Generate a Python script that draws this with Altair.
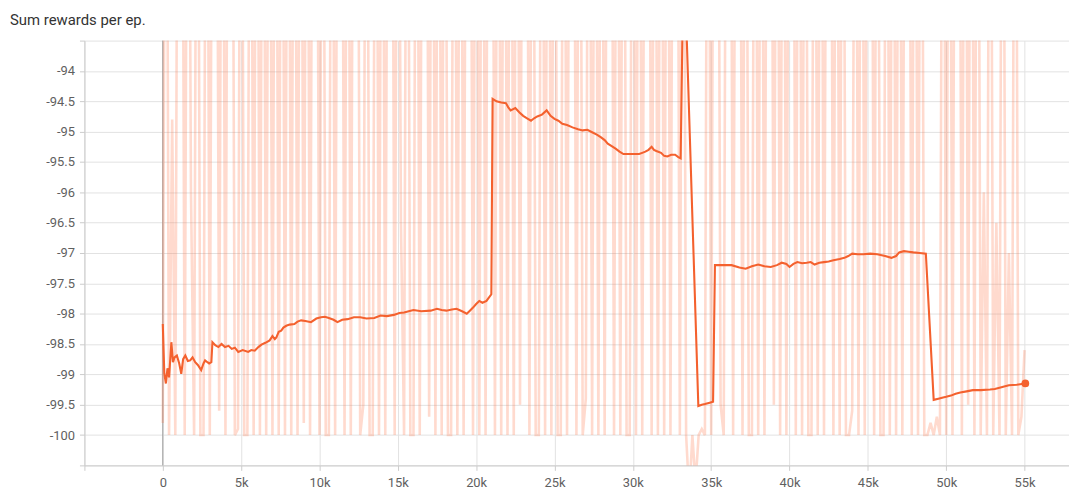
import altair as alt
import pandas as pd

# ---- smoothed series (step, value) ----
smooth_steps = [
    0, 100, 200, 300, 400, 550, 650, 750, 900, 1050,
    1180, 1300, 1440, 1600, 1750, 1900, 2070, 2250, 2450, 2600,
    2700, 2850, 2960, 3100, 3170, 3350, 3550, 3750, 3970, 4200,
    4400, 4600, 4820, 5100, 5450, 5650, 5870, 6100, 6300, 6550,
    6820, 7000, 7150, 7250, 7400, 7560, 7700, 7880, 8100, 8400,
    8600, 8830, 9100, 9460, 9800, 10100, 10350, 10600, 10900, 11150,
    11450, 11800, 12200, 12600, 13000, 13500, 13900, 14300, 14750, 15100,
    15400, 15700, 16000, 16500, 17100, 17500, 17800, 18100, 18450, 18750,
    19100, 19400, 19600, 19800, 20000, 20200, 20400, 20660, 20800, 20970,
    21050, 21300, 21600, 21900, 22050, 22200, 22500, 22750, 23000, 23250,
    23500, 23700, 23900, 24200, 24500, 24750, 25000, 25250, 25500, 25800,
    26150, 26500, 26800, 27100, 27400, 27700, 27950, 28200, 28400, 28650,
    28900, 29150, 29400, 29900, 30400, 30600, 30800, 31000, 31200, 31350,
    31500, 31800, 32000, 32200, 32450, 32700, 32900, 33050, 33250, 34180,
    34400, 34600, 34850, 35120, 35240, 35800, 36300, 36800, 37200, 37600,
    38000, 38400, 38800, 39200, 39500, 39800, 40000, 40250, 40500, 40800,
    41100, 41350, 41600, 41900, 42200, 42500, 42800, 43200, 43500, 43750,
    44000, 44350, 44700, 45150, 45600, 46100, 46500, 46800, 47000, 47300,
    47600, 47900, 48300, 48700, 49200, 49500, 49800, 50000, 50300, 50600,
    50900, 51300, 51700, 52200, 52800, 53100, 53400, 53700, 54000, 54500,
    55050,
]
smooth_values = [
    -98.17, -98.99, -99.15, -98.90, -99.05, -98.47, -98.80, -98.72, -98.69, -98.82,
    -98.99, -98.75, -98.69, -98.78, -98.77, -98.72, -98.80, -98.85, -98.93, -98.82,
    -98.77, -98.80, -98.82, -98.80, -98.47, -98.52, -98.55, -98.50, -98.55, -98.53,
    -98.58, -98.56, -98.63, -98.60, -98.63, -98.60, -98.61, -98.55, -98.51, -98.48,
    -98.44, -98.37, -98.42, -98.39, -98.30, -98.28, -98.23, -98.20, -98.18, -98.17,
    -98.13, -98.11, -98.12, -98.14, -98.08, -98.06, -98.05, -98.07, -98.10, -98.14,
    -98.10, -98.09, -98.06, -98.06, -98.08, -98.07, -98.03, -98.04, -98.02, -97.99,
    -97.98, -97.96, -97.94, -97.96, -97.95, -97.92, -97.94, -97.95, -97.93, -97.92,
    -97.96, -98.00, -97.95, -97.90, -97.84, -97.79, -97.82, -97.79, -97.74, -97.68,
    -94.46, -94.50, -94.52, -94.53, -94.60, -94.65, -94.61, -94.68, -94.74, -94.78,
    -94.82, -94.78, -94.75, -94.72, -94.65, -94.74, -94.79, -94.82, -94.87, -94.89,
    -94.93, -94.96, -94.98, -94.97, -95.01, -95.05, -95.09, -95.14, -95.20, -95.24,
    -95.28, -95.33, -95.37, -95.37, -95.37, -95.35, -95.33, -95.30, -95.25, -95.30,
    -95.32, -95.35, -95.40, -95.41, -95.38, -95.38, -95.42, -95.44, -91.90, -99.52,
    -99.50, -99.49, -99.47, -99.45, -97.20, -97.20, -97.20, -97.24, -97.26, -97.22,
    -97.19, -97.22, -97.23, -97.20, -97.16, -97.18, -97.23, -97.18, -97.15, -97.17,
    -97.16, -97.15, -97.19, -97.16, -97.15, -97.14, -97.12, -97.10, -97.08, -97.05,
    -97.01, -97.02, -97.02, -97.01, -97.02, -97.05, -97.08, -97.05, -96.99, -96.97,
    -96.98, -96.99, -97.00, -97.01, -99.42, -99.40, -99.38, -99.37, -99.35, -99.32,
    -99.30, -99.28, -99.26, -99.26, -99.25, -99.24, -99.22, -99.20, -99.18, -99.17,
    -99.15,
]

# ---- raw series, one value every 200 steps (values above the top are clipped) ----
raw_step = 200
raw_values = [
    -99.8, -85, -100, -94.8, -100, -85, -85, -100, -85, -96,
    -100, -85, -100, -100, -85, -100, -85, -85, -99.6, -85,
    -100, -85, -85, -100, -99.9, -85, -100, -100, -85, -100,
    -85, -100, -85, -100, -85, -100, -85, -100, -85, -100,
    -85, -100, -85, -100, -85, -99.8, -85, -100, -85, -85,
    -100, -85, -100, -100, -85, -100, -85, -85, -100, -85,
    -100, -85, -85, -100, -99.5, -85, -100, -100, -85, -100,
    -85, -100, -85, -85, -100, -85, -96.5, -100, -85, -100,
    -100, -85, -100, -85, -85, -99.7, -85, -100, -85, -100,
    -85, -100, -100, -85, -100, -85, -100, -85, -85, -100,
    -85, -100, -85, -100, -85, -85, -100, -85, -100, -85,
    -100, -85, -100, -85, -99.5, -85, -85, -100, -85, -100,
    -100, -85, -100, -85, -100, -85, -100, -100, -85, -100,
    -85, -85, -100, -85, -100, -99.4, -85, -100, -85, -100,
    -85, -100, -85, -85, -100, -85, -100, -85, -100, -100,
    -85, -100, -85, -100, -85, -85, -100, -85, -100, -85,
    -100, -85, -100, -85, -85, -100, -85, -100, -101, -100,
    -100.8, -100, -99.9, -100, -85, -100, -85, -85, -99.5, -100,
    -85, -85, -100, -85, -85, -100, -85, -100, -100, -85,
    -100, -85, -100, -85, -85, -99.5, -85, -100, -85, -100,
    -85, -85, -100, -85, -100, -85, -100, -100, -85, -100,
    -85, -100, -85, -85, -100, -85, -100, -85, -100, -100,
    -99.6, -85, -100, -85, -100, -85, -85, -100, -85, -100,
    -100, -85, -100, -85, -100, -85, -100, -85, -85, -100,
    -85, -100, -85, -100, -100, -99.8, -100, -99.7, -100, -85,
    -100, -85, -100, -85, -85, -100, -85, -99.5, -85, -100,
    -85, -100, -96, -100, -85, -100, -96.5, -100, -85, -100,
    -97, -100, -85, -100, -99.7, -98.6,
]

x_ticks = [-5000, 0, 5000, 10000, 15000, 20000, 25000, 30000, 35000, 40000, 45000, 50000, 55000]
y_ticks = [-100.5, -100, -99.5, -99, -98.5, -98, -97.5, -97, -96.5, -96, -95.5, -95, -94.5, -94, -93.5]

title_text = "Sum rewards per ep."

raw_df = pd.DataFrame({"step": [i * raw_step for i in range(len(raw_values))], "value": raw_values})
smooth_df = pd.DataFrame({"step": smooth_steps, "value": smooth_values})
end_df = smooth_df.tail(1)
zero_df = pd.DataFrame({"step": [0]})

x_enc = alt.X(
    "step:Q",
    scale=alt.Scale(domain=[-5000, 57836], nice=False, zero=False),
    axis=alt.Axis(
        values=x_ticks,
        labelExpr="datum.value < 0 ? '' : (datum.value == 0 ? '0' : (datum.value / 1000) + 'k')",
        title=None,
        tickSize=5,
        labelPadding=6,
        labelFlush=False,
    ),
)
y_enc = alt.Y(
    "value:Q",
    scale=alt.Scale(domain=[-100.5, -93.5], nice=False, zero=False),
    axis=alt.Axis(
        values=y_ticks,
        labelExpr="(datum.value < -100.25 || datum.value > -93.75) ? '' : '' + datum.value",
        title=None,
        tickSize=5,
        labelPadding=5,
    ),
)

raw = alt.Chart(raw_df).mark_line(
    color="#ff7043", strokeWidth=2.6, opacity=0.26, clip=True
).encode(x=x_enc, y=y_enc)

zero = alt.Chart(zero_df).mark_rule(color="#9a9a9a", strokeWidth=1).encode(x=x_enc)

smooth = alt.Chart(smooth_df).mark_line(
    color="#f4612e", strokeWidth=2.1, clip=True
).encode(x=x_enc, y=y_enc)

end = alt.Chart(end_df).mark_point(
    filled=True, color="#f4612e", size=60, opacity=1
).encode(x=x_enc, y=y_enc)

chart = (
    alt.layer(zero, raw, smooth, end)
    .properties(
        width=992,
        height=428,
        autosize=alt.AutoSizeParams(type="none"),
        padding={"left": 77, "top": 31, "right": 0, "bottom": 29},
        title=alt.Title(
            title_text,
            anchor="start",
            frame="group",
            dx=-75,
            offset=0,
            baseline="alphabetic",
            fontSize=15,
            font="Roboto",
            fontWeight="normal",
            color="#333333",
        ),
    )
    .configure_view(strokeWidth=0)
    .configure_axis(
        domainColor="#cccccc",
        gridColor="#e2e2e2",
        tickColor="#cccccc",
        labelFont="Roboto",
        labelFontSize=13,
        labelColor="#5f5f5f",
    )
)

chart.save("out.html", embed_options={"renderer": "svg", "actions": False})
